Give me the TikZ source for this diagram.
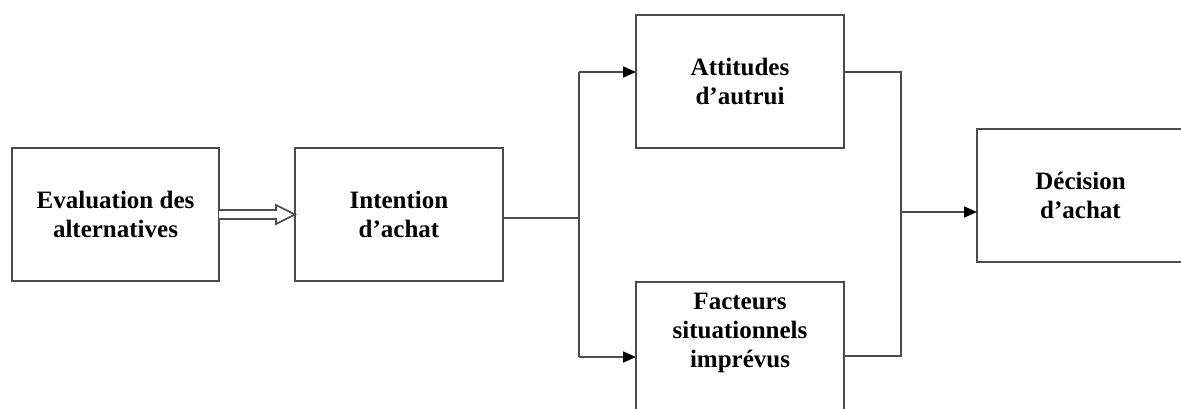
\documentclass[tikz,border=0pt]{standalone}
\usepackage{fontspec}
\setmainfont{Liberation Serif}
\usetikzlibrary{arrows.meta,calc}

\tikzset{
  box/.style={draw=black!70, line width=1.6pt, outer sep=0pt, inner sep=0pt,
              minimum width=#1, minimum height=133pt},
  box/.default=208pt,
  lbl/.style={font=\bfseries\fontsize{25}{29}\selectfont, align=center, inner sep=0pt},
  conn/.style={draw=black!70, line width=1.6pt},
  arr/.style={conn, -{Triangle[length=13pt,width=11pt,color=black]}},
  hollow/.style={draw=black!70, line width=1.6pt, line join=miter, fill=white}
}

\begin{document}
\begin{tikzpicture}[x=1pt,y=-1pt]
  \useasboundingbox (0,0) rectangle (1181,409);
  \clip (0,0) rectangle (1181,409);

  % boxes
  \node[box=207pt, lbl] (eval) at (115.5,214.5) {Evaluation des\\alternatives};
  \node[box, lbl] (intent) at (399,214.5) {Intention\\d’achat};
  \node[box, lbl] (att) at (740,81.5) {Attitudes\\d’autrui};
  \node[box, minimum height=148pt] (fact) at (740,356) {};
  \node[lbl] (facttxt) at (740,333) {Facteurs\\situationnels\\imprévus};
  \node[box=207pt, lbl] (dec) at (1080.5,195.5) {Décision\\d’achat};

  % hollow double arrow between the first two boxes
  \draw[hollow]
    ([yshift=4.5pt]eval.east) -- ([xshift=-19pt,yshift=4.5pt]intent.west)
    -- ([xshift=-19pt,yshift=9.5pt]intent.west) -- (intent.west)
    -- ([xshift=-19pt,yshift=-9.5pt]intent.west)
    -- ([xshift=-19pt,yshift=-4.5pt]intent.west)
    -- ([yshift=-4.5pt]eval.east);

  % split towards the two influencing factors
  \coordinate (jmid) at (579,218);
  \coordinate (jtop) at (579,72);
  \coordinate (jbot) at (579,357);
  \draw[conn] ([yshift=-3.5pt]intent.east) -- (jmid);
  \draw[conn] (jtop) -- (jbot);
  \draw[arr] (jtop) -- (jtop -| att.west);
  \draw[arr] (jbot) -- (jbot -| fact.west);

  % merge towards the decision
  \coordinate (rtop) at (901,72);
  \coordinate (rbot) at (901,356);
  \coordinate (rmid) at (901,212);
  \draw[conn] (att.east |- rtop) -- (rtop) -- (rbot) -- (fact.east |- rbot);
  \draw[arr] (rmid) -- (rmid -| dec.west);
\end{tikzpicture}
\end{document}
